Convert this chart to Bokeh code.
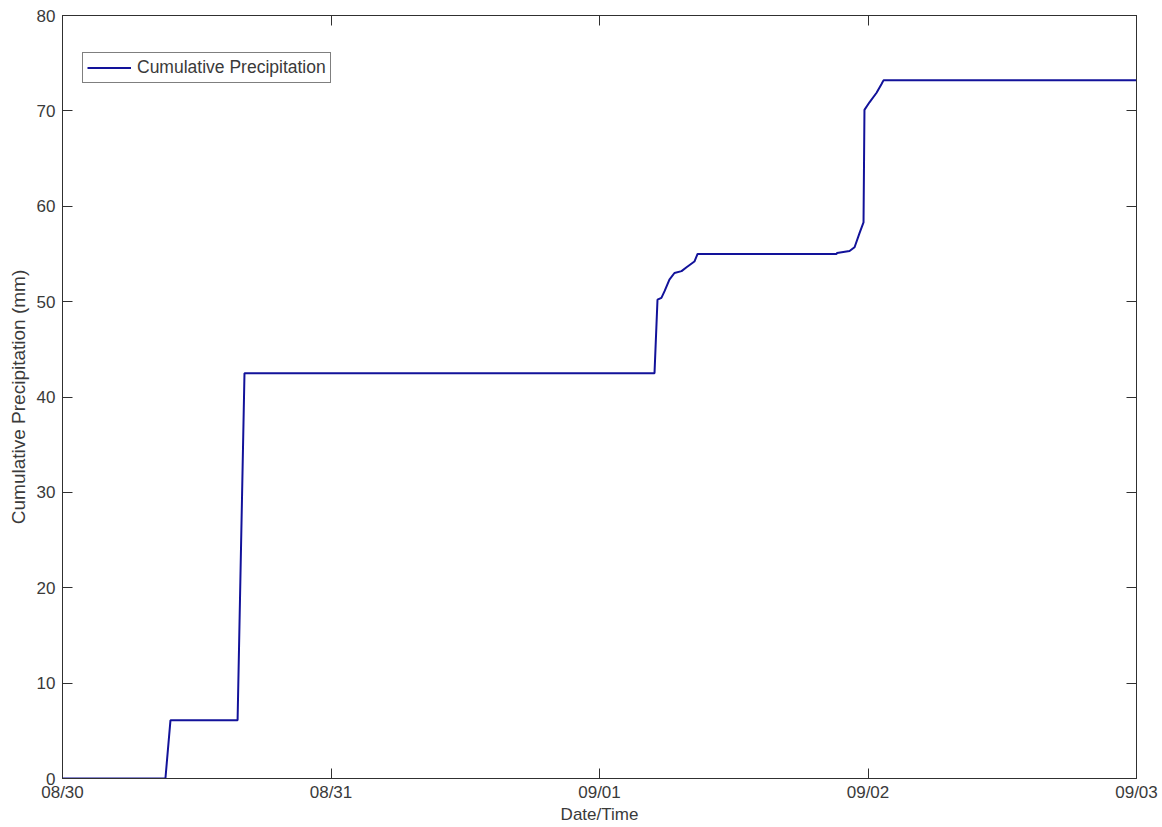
import pandas as pd
from bokeh.plotting import figure
from bokeh.models import (LinearAxis, DatetimeAxis, FixedTicker, DatetimeTickFormatter,
                          Range1d, Legend, LegendItem)
from bokeh.embed import file_html
from bokeh.resources import INLINE

# ---- data ----
times = [
    "2012-08-30 00:00", "2012-08-30 09:12", "2012-08-30 09:39", "2012-08-30 15:39",
    "2012-08-30 16:16", "2012-09-01 04:55", "2012-09-01 05:11", "2012-09-01 05:32",
    "2012-09-01 05:49", "2012-09-01 06:15", "2012-09-01 06:42", "2012-09-01 07:20",
    "2012-09-01 07:47", "2012-09-01 08:29", "2012-09-01 08:46", "2012-09-01 21:11",
    "2012-09-01 21:14", "2012-09-01 22:21", "2012-09-01 22:48", "2012-09-01 23:15",
    "2012-09-01 23:36", "2012-09-01 23:41", "2012-09-02 00:08", "2012-09-02 00:46",
    "2012-09-02 01:12", "2012-09-02 01:23", "2012-09-03 00:00",
]
precip_mm = [
    0.0, 0.0, 6.1, 6.1,
    42.5, 42.5, 50.2, 50.4,
    51.1, 52.3, 53.0, 53.2,
    53.6, 54.2, 55.0, 55.0,
    55.1, 55.3, 55.7, 57.2,
    58.3, 70.1, 70.9, 71.9,
    72.8, 73.2, 73.2,
]
day_ticks = ["2012-08-30", "2012-08-31", "2012-09-01", "2012-09-02", "2012-09-03"]
y_ticks = [0, 10, 20, 30, 40, 50, 60, 70, 80]

t = pd.to_datetime(times)
tick_ms = [pd.Timestamp(d).value / 1e6 for d in day_ticks]

FONT = "Liberation Sans"
TXT = "#3a3a3a"
AX = "#303030"

p = figure(width=1160, height=826, x_axis_type="datetime",
           output_backend="svg", toolbar_location=None,
           x_range=Range1d(tick_ms[0], tick_ms[-1]), y_range=Range1d(0, 80),
           min_border_left=62, min_border_right=24, min_border_top=15,
           min_border_bottom=45)
p.xgrid.visible = False
p.ygrid.visible = False
p.outline_line_color = AX
p.background_fill_color = "white"
p.border_fill_color = "white"

r = p.line(t, precip_mm, line_color="#12129a", line_width=2)

xa = p.xaxis[0]
xa.ticker = FixedTicker(ticks=tick_ms)
xa.formatter = DatetimeTickFormatter(days="%m/%d", months="%m/%d", hours="%m/%d")
xa.axis_label = "Date/Time"
ya = p.yaxis[0]
ya.ticker = FixedTicker(ticks=y_ticks)
ya.axis_label = "Cumulative Precipitation (mm)"

for ax in (xa, ya):
    ax.major_tick_in = 10
    ax.major_tick_out = 0
    ax.minor_tick_line_color = None
    ax.axis_line_color = AX
    ax.major_tick_line_color = AX
    ax.major_label_text_font = FONT
    ax.major_label_text_font_size = "17px"
    ax.major_label_text_color = TXT
    ax.axis_label_text_font = FONT
    ax.axis_label_text_font_size = "17px"
    ax.axis_label_text_font_style = "normal"
    ax.axis_label_text_color = TXT
ya.axis_label_text_font_size = "19px"
xa.major_label_standoff = 4
xa.axis_label_standoff = 0
ya.major_label_standoff = 7
ya.axis_label_standoff = 5

top = DatetimeAxis(ticker=FixedTicker(ticks=tick_ms))
right = LinearAxis(ticker=FixedTicker(ticks=y_ticks))
for ax in (top, right):
    ax.major_tick_in = 10
    ax.major_tick_out = 0
    ax.minor_tick_line_color = None
    ax.axis_line_color = AX
    ax.major_tick_line_color = AX
    ax.major_label_text_font_size = "0px"
    ax.major_label_standoff = 0
    ax.major_label_text_color = None
p.add_layout(top, "above")
p.add_layout(right, "right")

legend = Legend(items=[LegendItem(label="Cumulative Precipitation", renderers=[r])],
                location=(20, 695))
legend.margin = 0
legend.padding = 4
legend.border_line_color = "black"
legend.border_line_width = 1
legend.background_fill_color = "white"
legend.background_fill_alpha = 1
legend.glyph_width = 44
legend.glyph_height = 17
legend.label_height = 17
legend.label_standoff = 6
legend.label_text_font = FONT
legend.label_text_font_size = "17.5px"
legend.label_text_color = TXT
p.add_layout(legend)

open("out.html", "w").write(file_html(p, INLINE))
